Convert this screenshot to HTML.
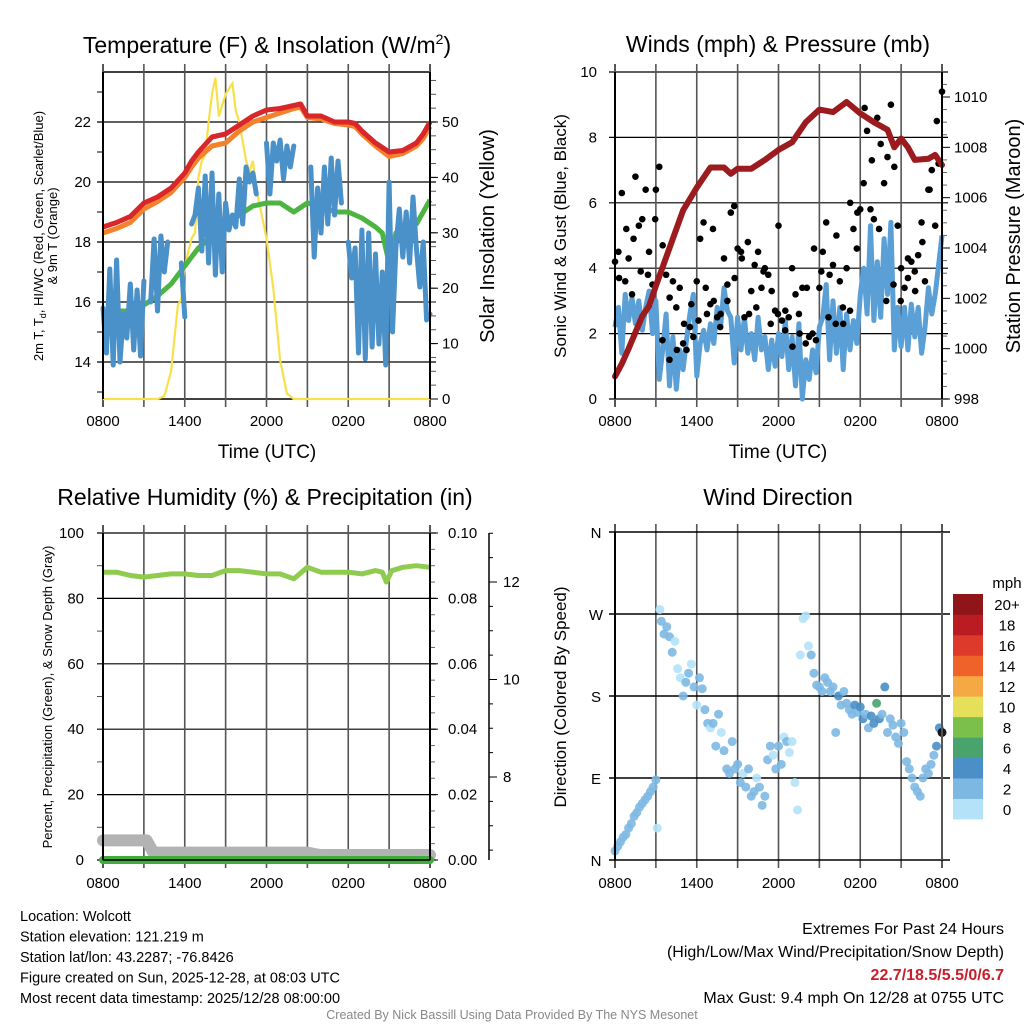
<!DOCTYPE html>
<html><head><meta charset="utf-8"><style>
html,body{margin:0;padding:0;background:#fff;}
svg{display:block;font-family:"Liberation Sans",Arial,sans-serif;}
</style></head><body>
<svg id="fig" width="1024" height="1024" viewBox="0 0 1024 1024" xmlns="http://www.w3.org/2000/svg">
<rect width="1024" height="1024" fill="#fff"/>
</svg>
<script>
// ---------- DATA ----------
const hourTicks = ["0800","1400","2000","0200","0800"];
const tempTimes = [0,1,2,3,4,5,6,6.5,7,8,9,10,11,12,13,14,14.5,15,16,17,18,18.5,19,20,21,22,23,23.5,24];
const tempRed   = [18.5,18.65,18.85,19.3,19.5,19.8,20.3,20.7,21.0,21.5,21.6,21.9,22.2,22.4,22.45,22.55,22.6,22.2,22.2,22.0,22.0,21.95,21.7,21.3,21.0,21.05,21.3,21.6,22.0];
const tempOrange= [18.3,18.45,18.65,19.1,19.35,19.65,20.15,20.5,20.8,21.2,21.3,21.7,22.0,22.15,22.3,22.45,22.5,22.15,22.1,21.95,21.9,21.85,21.6,21.2,20.85,20.95,21.2,21.45,21.85];
const dewTimes  = [0,1,2,3,4,5,6,7,8,9,10,11,12,13,14,15,16,17,18,19,20,20.5,21,21.5,22,23,24];
const dewGreen  = [15.6,15.7,15.7,15.9,16.2,16.6,17.2,17.8,18.2,18.5,18.9,19.2,19.3,19.3,19.0,19.3,19.2,19.0,19.0,18.8,18.5,18.3,17.3,18.3,18.3,18.6,19.4];
const hiwcBlue  = [15.8,14.3,17.1,13.9,17.4,14.0,15.6,14.8,16.6,14.4,16.4,14.2,16.7,null,16.0,18.1,15.7,18.2,17.0,18.0,null,null,null,17.3,15.5,null,18.6,18.9,19.8,17.7,20.2,17.3,20.3,16.9,19.6,17.0,19.3,18.4,18.9,18.5,20.1,18.6,20.5,20.0,20.3,19.6,null,null,21.3,19.6,21.3,20.7,21.4,20.1,21.2,20.5,21.2,null,null,null,null,20.5,17.5,19.8,18.3,20.5,18.6,20.8,18.9,20.7,19.3,null,18.0,16.8,17.8,14.3,18.4,14.1,18.3,14.5,17.6,14.6,17.0,13.9,20.0,15.0,17.8,19.1,17.5,19.0,17.3,19.5,17.8,16.5,18.0,15.4,15.6];
const solarTimes= [0,4,4.5,5,5.5,5.75,6,6.5,6.75,7,7.25,7.5,7.75,8,8.25,8.5,9,9.5,9.75,10,10.5,10.75,11,11.25,11.5,12,12.5,13,13.5,14,24];
const solarYellow=[0,0,0.5,5,17,18,24,29,30,40,43,44,50,55,58,51,55,57,52,50,43,41,43,38,35,29,20,7,1,0,0];
const presTimes = [0,0.5,1,2,2.5,3,4,5,6,7,8,8.5,9,10,11,12,13,14,15,16,17,18,19,20,20.5,21,21.5,22,23,23.5,24];
const presMaroon= [998.9,999.4,1000.0,1001.3,1001.7,1002.5,1004.0,1005.5,1006.4,1007.2,1007.2,1006.95,1007.15,1007.15,1007.5,1007.9,1008.2,1009.0,1009.5,1009.4,1009.8,1009.35,1009.0,1008.7,1008.0,1008.35,1008.0,1007.5,1007.55,1007.7,1007.3];
const windBlue  = [2.2,2.8,1.4,3.2,2.4,3.1,2.3,3.0,2.1,2.8,3.3,2.0,3.0,0.6,1.5,2.6,0.4,1.9,0.3,1.5,0.9,1.8,2.6,3.2,0.7,1.7,2.1,1.5,2.3,1.7,2.8,2.2,3.4,2.7,2.5,1.1,2.5,1.5,2.5,1.4,2.0,1.2,2.5,1.5,1.9,0.9,1.8,1.0,2.0,1.3,2.4,0.9,1.9,0.4,2.3,0.0,1.2,0.6,1.5,0.8,2.2,2.5,3.5,1.2,3.0,1.4,2.8,0.9,2.6,1.5,2.4,1.7,3.2,4.0,2.6,5.3,2.4,4.2,2.5,4.9,3.2,5.4,1.5,2.8,1.6,2.8,1.5,2.9,1.9,2.8,1.4,2.2,3.4,2.6,3.2,4.1,5.0];
const gustBlack = [4.2,4.5,6.3,3.6,4.3,3.2,6.8,5.3,5.5,6.4,4.5,3.5,6.4,7.1,4.7,3.8,1.2,3.6,2.8,3.4,1.7,1.5,2.2,1.9,3.6,4.9,5.4,2.6,2.9,3.0,2.5,2.6,4.3,3.0,5.7,5.9,4.6,4.5,2.5,4.8,3.3,4.1,4.5,3.4,4.0,3.8,3.3,2.7,5.3,2.4,2.7,2.5,4.0,3.2,2.6,3.4,1.7,1.9,2.0,1.8,3.4,4.5,5.4,3.8,4.1,5.0,3.6,2.3,4.0,2.7,5.2,4.6,5.8,6.6,8.2,5.8,5.5,8.6,7.8,6.6,7.4,9.0,7.1,5.3,4.0,3.4,3.7,4.2,3.9,4.4,5.4,3.6,6.4,7.0,5.3,7.2,9.4];
const gustBlack2= [3.7,5.2,4.9,3.9,3.8,5.5,1.8,3.1,1.5,2.3,2.9,2.4,3.4,5.2,2.2,3.5,3.7,4.3,2.6,2.8,3.9,2.3,2.6,2.1,1.6,2.0,3.4,4.6,3.9,2.5,2.3,2.8,6.0,5.7,8.9,7.3,5.2,3.0,3.5,3.0,4.3,3.3,4.8,6.4,8.5];
const dirTimes  = [0,0.2,0.4,0.6,0.8,1.0,1.2,1.4,1.6,1.8,2.0,2.2,2.4,2.6,2.8,3.0,3.1,3.3,3.4,3.6,3.8,4.0,4.2,4.4,4.6,4.8,5.0,5.2,5.4,5.6,5.8,6.0,6.2,6.4,6.6,6.8,7.0,7.2,7.4,7.6,7.8,8.0,8.2,8.4,8.6,8.8,9.0,9.2,9.4,9.6,9.8,10.0,10.2,10.4,10.6,10.8,11.0,11.2,11.4,11.6,11.8,12.0,12.2,12.4,12.6,12.8,13.0,13.2,13.4,13.6,13.8,14.0,14.2,14.4,14.6,14.8,15.0,15.2,15.4,15.6,15.8,16.0,16.2,16.4,16.6,16.8,17.0,17.2,17.4,17.6,17.8,18.0,18.2,18.4,18.6,18.8,19.0,19.2,19.4,19.6,19.8,20.0,20.2,20.4,20.6,20.8,21.0,21.2,21.4,21.6,21.8,22.0,22.2,22.4,22.6,22.8,23.0,23.2,23.4,23.6,23.8,24.0];
const dirValues = [10,15,20,25,28,35,40,48,52,58,62,66,70,75,80,88,35,275,262,248,256,245,228,240,210,200,180,195,205,215,190,170,200,188,165,150,145,150,125,160,140,120,100,95,130,100,105,85,95,80,100,70,75,90,80,60,70,110,125,115,100,125,105,135,130,118,130,85,55,225,265,268,235,225,205,192,190,185,200,195,185,190,140,180,170,185,172,165,160,170,162,168,155,160,145,158,150,172,155,160,190,140,155,148,135,128,150,140,108,100,90,80,75,70,90,100,95,105,115,125,145,140];
const dirSpeeds = [2.5,2.5,2.2,2.3,2.4,2.6,2.5,2.8,2.7,2.6,2.8,2.5,2.7,2.9,2.8,2.6,1.2,1.0,2.5,3.0,3.2,2.8,2.6,1.5,1.3,1.4,2.4,3.1,3.0,1.4,2.5,1.6,2.9,2.8,2.3,2.6,1.5,2.7,2.9,2.5,1.3,2.6,2.8,2.7,2.5,2.6,2.4,2.7,1.5,2.5,2.6,2.7,2.5,1.4,2.6,2.5,2.3,2.8,2.7,1.5,2.9,2.6,2.4,1.5,2.6,1.3,1.6,1.2,1.1,1.5,1.3,1.2,1.5,2.6,3.4,2.8,2.9,3.1,2.7,3.3,2.9,3.0,2.5,4.4,2.8,3.5,3.2,2.7,3.6,4.2,3.3,4.3,4.5,3.9,2.7,4.6,4.1,6.5,4.2,3.6,4.7,3.8,2.9,3.2,2.6,3.0,2.8,2.7,2.4,2.9,2.6,2.8,2.5,2.7,3.0,2.6,2.4,3.0,2.9,4.2,4.1];
const rhTimes   = [0,1,2,3,4,5,6,7,8,9,10,11,12,13,14,15,16,17,18,19,20,20.5,20.8,21.2,22,23,24];
const rhGreen   = [88,88,87,86.5,87,87.5,87.5,87,87,88.5,88.5,88,87.5,87.5,86,89.5,88,88,88,87.5,88.5,88,85,88.5,89.5,90,89.5];
const snowTimes = [0,3.2,3.7,15,15.5,16,23.5,24];
const snowGray  = [6.7,6.7,6.45,6.45,6.42,6.4,6.4,6.4];
const precipTimes=[0,24];
const precipGreen=[0,0];
const speedBins = ["0","2","4","6","8","10","12","14","16","18","20+"];
const speedColors=["#b4e2f8","#7db8e3","#4a8fc7","#48a46c","#7ac04b","#e5df5a","#f5a945","#ef632b","#de3a2b","#bb1c24","#8f1519"];

// ---------- helpers ----------
const NS="http://www.w3.org/2000/svg";
const svg=document.getElementById('fig');
function mk(tag,attrs,parent){const e=document.createElementNS(NS,tag);for(const k in attrs)e.setAttribute(k,attrs[k]);(parent||svg).appendChild(e);return e;}
function txt(s,x,y,size,anchor,parent,extra){const e=mk('text',Object.assign({x:x,y:y,'font-size':size,'text-anchor':anchor||'middle',fill:'#000'},extra||{}),parent);e.textContent=s;return e;}
function lin(d0,d1,r0,r1){return v=>r0+(v-d0)/(d1-d0)*(r1-r0);}
function pathFrom(xs,ys,fx,fy){let d='',pen=false;for(let i=0;i<xs.length;i++){if(ys[i]===null){pen=false;continue;}d+=(pen?'L':'M')+fx(xs[i]).toFixed(1)+','+fy(ys[i]).toFixed(1);pen=true;}return d;}

function timeGrid(g,X0,X1,Y0,Y1,labelY){
  const fx=lin(0,24,X0,X1);
  for(let h=0;h<=24;h+=3){
    const l=mk('line',{x1:fx(h),x2:fx(h),y1:Y0-8,y2:Y1+8,stroke:'#555','stroke-width':(h===0||h===24)?2:1.6},g);
    
    
  }
  hourTicks.forEach((s,i)=>{const t=txt(s,fx(i*6),labelY,15,'middle',g);});
  return fx;
}
function hgrid(g,X0,X1,y,w){mk('line',{x1:X0-6,x2:X1+6,y1:y,y2:y,stroke:'#000','stroke-width':w||1.2},g);}

// ---------- Panel 1: Temperature ----------
(function(){
  const g=mk('g',{});  
  const X0=103,X1=430,Y0=72,Y1=399;
  const fy=lin(14,22,362,122), fs=lin(0,50,399,122);
  for(let v=14;v<=22;v+=2) hgrid(g,X0,X1,fy(v));
  mk('line',{x1:X0,x2:X1,y1:Y0,y2:Y0,stroke:'#000','stroke-width':1.5},g);
  mk('line',{x1:X0,x2:X1,y1:Y1,y2:Y1,stroke:'#000','stroke-width':1.5},g);
  for(let v=13;v<=23;v++) mk('line',{x1:X0-6,x2:X0,y1:fy(v),y2:fy(v),stroke:'#000'},g);
  for(let v=0;v<=58;v+=2.5) mk('line',{x1:X1,x2:X1+6,y1:fs(v),y2:fs(v),stroke:'#555'},g);
  for(let v=0;v<=50;v+=10) mk('line',{x1:X1,x2:X1+8,y1:fs(v),y2:fs(v),stroke:'#000'},g);
  const fx=timeGrid(g,X0,X1,Y0,Y1,426);
  [14,16,18,20,22].forEach(v=>{const t=txt(String(v),X0-12,fy(v)+5,15,'end',g);});
  [0,10,20,30,40,50].forEach(v=>{const t=txt(String(v),X1+12,fs(v)+5,15,'start',g);});
  const p1=mk('path',{d:pathFrom(solarTimes,solarYellow,fx,fs),fill:'none',stroke:'#f7e04c','stroke-width':2.2},g);
   
  const p2=mk('path',{d:pathFrom(dewTimes,dewGreen,fx,fy),fill:'none',stroke:'#4cb542','stroke-width':5,'stroke-linejoin':'round'},g);
   
  const bt=hiwcBlue.map((v,i)=>i*0.25);
  const p3=mk('path',{d:pathFrom(bt,hiwcBlue,fx,fy),fill:'none',stroke:'#4a90c9','stroke-width':5,'stroke-linejoin':'round','stroke-linecap':'round'},g);
   
  const p4=mk('path',{d:pathFrom(tempTimes,tempOrange,fx,fy),fill:'none',stroke:'#f4812c','stroke-width':5,'stroke-linejoin':'round'},g);
   
  const p5=mk('path',{d:pathFrom(tempTimes,tempRed,fx,fy),fill:'none',stroke:'#d8262a','stroke-width':5,'stroke-linejoin':'round'},g);
   
  mk('line',{x1:X0,x2:X0,y1:Y0,y2:Y1,stroke:'#000','stroke-width':2},g);
  mk('line',{x1:X1,x2:X1,y1:Y0,y2:Y1,stroke:'#000','stroke-width':2},g);
  const t=txt('',267,53,23,'middle',g);  
  t.innerHTML='Temperature (F) &amp; Insolation (W/m<tspan font-size="14" dy="-9">2</tspan><tspan dy="9">)</tspan>';
  const x=txt('Time (UTC)',267,458,19,'middle',g);  
  const a=txt('',0,0,13,'middle',g,{transform:'translate(43,236) rotate(-90)'});  
  a.innerHTML='2m T, T<tspan font-size="9" dy="3">d</tspan><tspan dy="-3">, HI/WC (Red, Green, Scarlet/Blue)</tspan>';
  const a2=txt('& 9m T (Orange)',0,0,13,'middle',g,{transform:'translate(57,236) rotate(-90)'});  
  const r=txt('Solar Insolation (Yellow)',0,0,20,'middle',g,{transform:'translate(494,236) rotate(-90)'});  
})();

// ---------- Panel 2: Winds ----------
(function(){
  const g=mk('g',{});  
  const X0=615,X1=942,Y0=72,Y1=399;
  const fy=lin(0,10,399,72), fp=lin(998,1010,399,97);
  for(let v=0;v<=10;v+=2) hgrid(g,X0,X1,fy(v));
  for(let v=998;v<=1010.5;v+=0.5) mk('line',{x1:X1,x2:X1+(v%2===0?8:5),y1:fp(v),y2:fp(v),stroke:v%2===0?'#000':'#666'},g);
  const fx=timeGrid(g,X0,X1,Y0,Y1,426);
  [0,2,4,6,8,10].forEach(v=>{const t=txt(String(v),X0-18,fy(v)+5,15,'end',g);});
  [998,1000,1002,1004,1006,1008,1010].forEach(v=>{const t=txt(String(v),X1+12,fp(v)+5,15,'start',g);});
  const wt=windBlue.map((v,i)=>i*0.25);
  const p=mk('path',{d:pathFrom(wt,windBlue,fx,fy),fill:'none',stroke:'#5a9fd6','stroke-width':5,'stroke-linejoin':'round'},g);
   
  gustBlack.forEach((v,i)=>{const c=mk('circle',{cx:fx(i*0.25),cy:fy(v),r:3.3,fill:'#000'},g);
     });
  gustBlack2.forEach((v,i)=>{const c=mk('circle',{cx:fx(0.3+i*0.53),cy:fy(v),r:3.3,fill:'#000'},g);
     });
  const pp=mk('path',{d:pathFrom(presTimes,presMaroon,fx,fp),fill:'none',stroke:'#9b1b1e','stroke-width':6,'stroke-linejoin':'round','stroke-linecap':'round'},g);
   
  mk('line',{x1:X0,x2:X0,y1:Y0,y2:Y1,stroke:'#000','stroke-width':2},g);
  mk('line',{x1:X1,x2:X1,y1:Y0,y2:Y1,stroke:'#000','stroke-width':2},g);
  const t=txt('Winds (mph) & Pressure (mb)',778,52,23,'middle',g);  
  const x=txt('Time (UTC)',778,458,19,'middle',g);  
  const a=txt('Sonic Wind & Gust (Blue, Black)',0,0,17,'middle',g,{transform:'translate(566,236) rotate(-90)'});  
  const r=txt('Station Pressure (Maroon)',0,0,20,'middle',g,{transform:'translate(1020,236) rotate(-90)'});  
})();

// ---------- Panel 3: RH ----------
(function(){
  const g=mk('g',{});  
  const X0=103,X1=430,Y0=533,Y1=860;
  const fy=lin(0,100,860,533), fpr=lin(0,0.1,860,533), fsn=lin(8,12,777,582);
  for(let v=0;v<=100;v+=20) hgrid(g,X0,X1,fy(v));
  for(let v=10;v<=90;v+=20) mk('line',{x1:X0-6,x2:X0,y1:fy(v),y2:fy(v),stroke:'#555'},g);
  for(let v=0;v<=100;v+=5) mk('line',{x1:X1,x2:X1+(v%20===0?8:5),y1:fy(v),y2:fy(v),stroke:v%20===0?'#000':'#666'},g);
  const fx=timeGrid(g,X0,X1,Y0,Y1,888);
  [0,20,40,60,80,100].forEach(v=>{const t=txt(String(v),X0-19,fy(v)+5,15,'end',g);});
  ['0.00','0.02','0.04','0.06','0.08','0.10'].forEach((s,i)=>{const t=txt(s,X1+18,fy(i*20)+5,15,'start',g);});
  mk('line',{x1:489,x2:489,y1:533,y2:860,stroke:'#000','stroke-width':1.5},g);
  for(let v=6.5;v<=13;v+=0.5) {const y=fsn(v); if(y>=533&&y<=860) mk('line',{x1:489,x2:489+(v%2===0?8:4),y1:y,y2:y,stroke:'#000'},g);}
  [8,10,12].forEach(v=>{const t=txt(String(v),503,fsn(v)+5,15,'start',g);});
  const s=mk('path',{d:pathFrom(snowTimes,snowGray,fx,fsn),fill:'none',stroke:'#b3b3b3','stroke-width':12,'stroke-linejoin':'round','stroke-linecap':'round'},g);
   
  const pr=mk('path',{d:pathFrom(precipTimes,precipGreen,fx,fpr),fill:'none',stroke:'#41ac3e','stroke-width':8,'stroke-linecap':'round'},g);
   
  mk('line',{x1:X0,x2:X1,y1:Y1,y2:Y1,stroke:'#000','stroke-width':1.5},g);
  const rh=mk('path',{d:pathFrom(rhTimes,rhGreen,fx,fy),fill:'none',stroke:'#8ecb4e','stroke-width':5,'stroke-linejoin':'round'},g);
   
  mk('line',{x1:X0,x2:X0,y1:Y0,y2:Y1,stroke:'#000','stroke-width':2},g);
  mk('line',{x1:X1,x2:X1,y1:Y0,y2:Y1,stroke:'#000','stroke-width':2},g);
  const t=txt('Relative Humidity (%) & Precipitation (in)',265,505,23,'middle',g);  
  const a=txt('Percent, Precipitation (Green), & Snow Depth (Gray)',0,0,13,'middle',g,{transform:'translate(52,697) rotate(-90)'});  
})();

// ---------- Panel 4: Wind direction ----------
(function(){
  const g=mk('g',{});  
  const X0=615,X1=942,Y0=532,Y1=860;
  const fy=lin(0,360,860,532);
  const fx=timeGrid(g,X0,X1,Y0,Y1,888);
  ['N','E','S','W','N'].forEach((s,i)=>{hgrid(g,X0,X1+2,fy(i*90),1.4);const t=txt(s,596,fy(i*90)+6,15,'middle',g);});
  function col(s){let i=Math.min(10,Math.floor(s/2));return speedColors[i];}
  dirTimes.forEach((tm,i)=>{const c=mk('circle',{cx:fx(tm),cy:fy(dirValues[i]),r:4.5,fill:col(dirSpeeds[i]),'fill-opacity':0.9},g);
     });
  mk('line',{x1:X0,x2:X0,y1:Y0,y2:Y1,stroke:'#000','stroke-width':2},g);
  mk('line',{x1:X1,x2:X1,y1:Y0,y2:Y1,stroke:'#555','stroke-width':2},g);
  const t=txt('Wind Direction',778,505,23,'middle',g);  
  const a=txt('Direction (Colored By Speed)',0,0,17,'middle',g,{transform:'translate(566,697) rotate(-90)'});  
  const lg=mk('g',{},g);  
  const lt=txt('mph',1007,588,15,'middle',lg);  
  const bh=(819-594)/11;
  for(let i=0;i<11;i++){const y=819-(i+1)*bh;
    const r=mk('rect',{x:953,y:y,width:30,height:bh+0.4,fill:speedColors[i]},lg);  
    const tx=txt(speedBins[i],1007,y+bh/2+6,15,'middle',lg);  }
})();

// ---------- Footer ----------
(function(){
  const g=mk('g',{});  
  ['Location: Wolcott','Station elevation: 121.219 m','Station lat/lon: 43.2287; -76.8426','Figure created on Sun, 2025-12-28, at 08:03 UTC','Most recent data timestamp: 2025/12/28 08:00:00'].forEach((s,i)=>{const t=txt(s,20,921+i*20.5,14.5,'start',g);});
  const h=mk('g',{});  
  let t=txt('Extremes For Past 24 Hours',1004,934,16,'end',h);  
  t=txt('(High/Low/Max Wind/Precipitation/Snow Depth)',1004,957,16,'end',h);  
  t=txt('22.7/18.5/5.5/0/6.7',1004,980,16,'end',h,{fill:'#c8202a','font-weight':'bold'});  
  t=txt('Max Gust: 9.4 mph On 12/28 at 0755 UTC',1004,1003,16,'end',h);  
  t=txt('Created By Nick Bassill Using Data Provided By The NYS Mesonet',512,1019,12.5,'middle',svg,{fill:'#888'});  
})();
</script>
</body></html>
